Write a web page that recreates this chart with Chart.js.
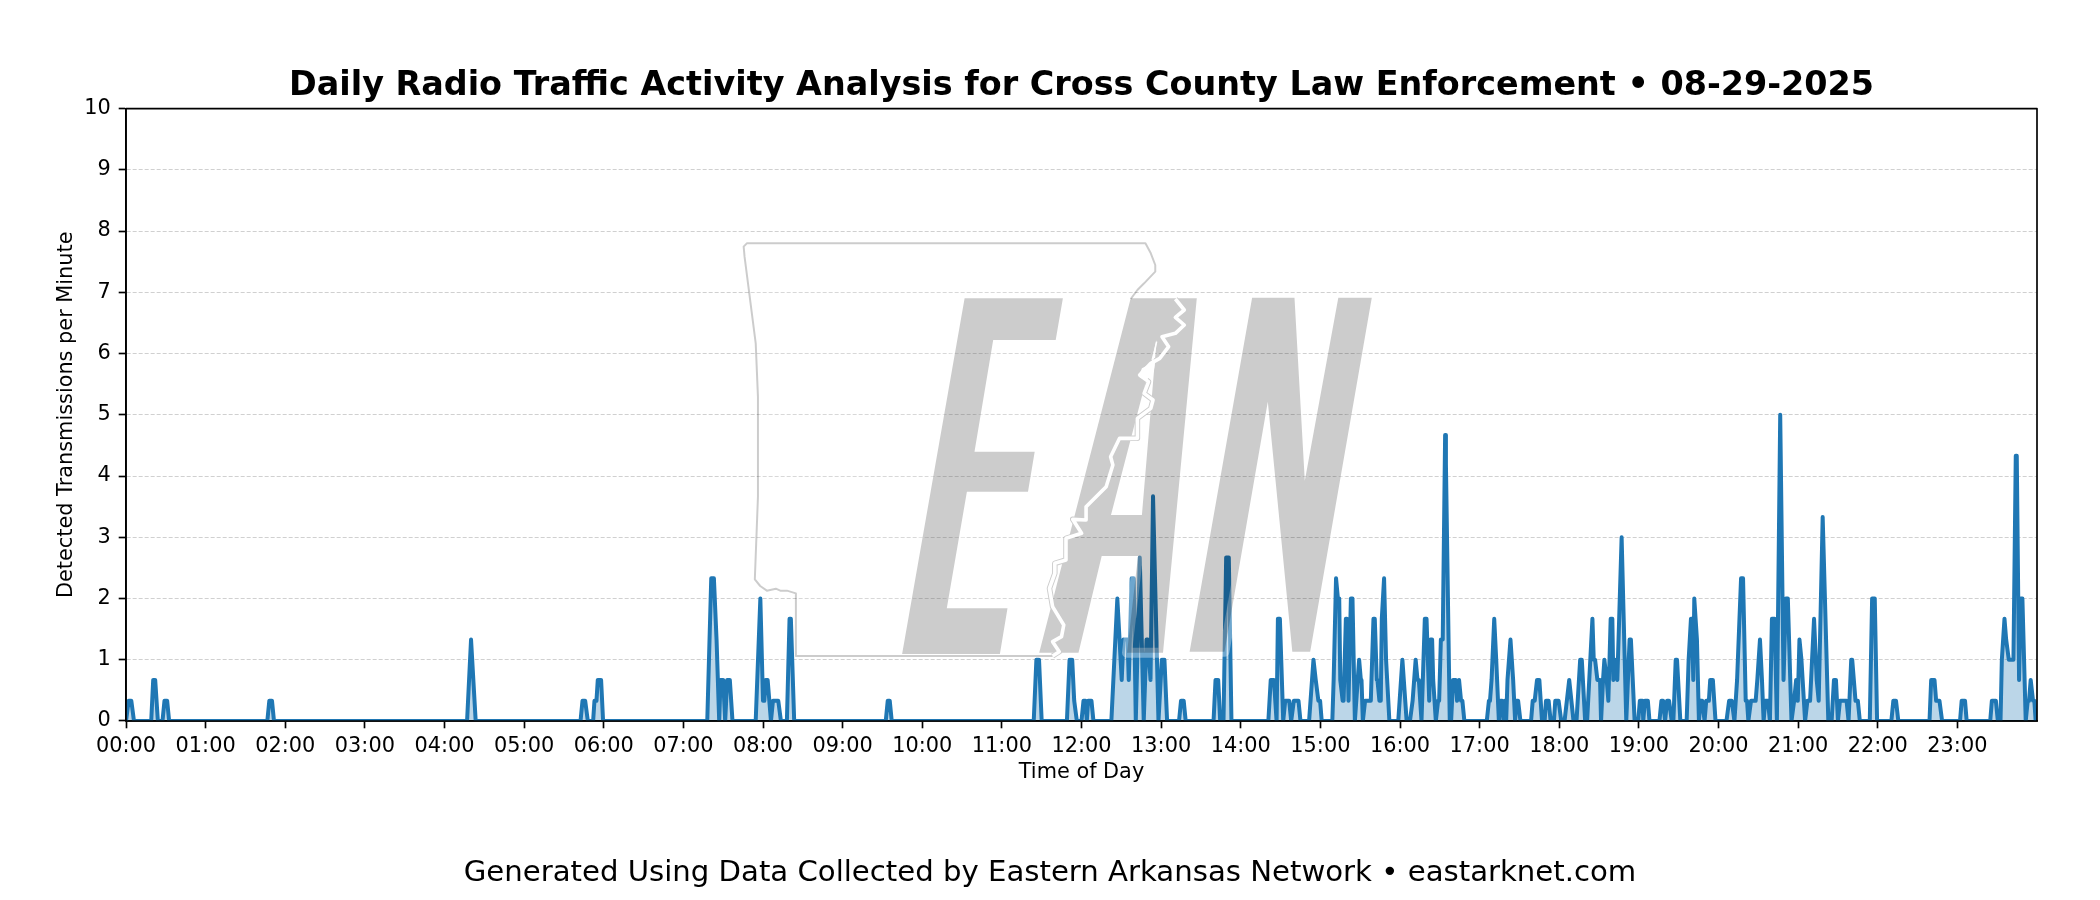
<!DOCTYPE html>
<html><head><meta charset="utf-8">
<style>html,body{margin:0;padding:0;background:#fff}canvas{display:block}</style>
<script src="https://cdn.jsdelivr.net/npm/chart.js@4"></script>
</head><body><canvas id="c" width="2100" height="900"></canvas>
<script>
const chartTitle = "Daily Radio Traffic Activity Analysis for Cross County Law Enforcement \u2022 08-29-2025";
const footerText = "Generated Using Data Collected by Eastern Arkansas Network \u2022 eastarknet.com";
const xAxisLabel = "Time of Day";
const yAxisLabel = "Detected Transmissions per Minute";

const minutes = [
 0,2,4,6,
 19,20.5,22,24,
 27.5,29,31,32.5,
 106.5,108,110,111.5,
 257,260,263.5,
 342.5,344,346,348,
 352,353,354.5,355.5,358,359.5,
 438,441,443,445,447,448,450,451.5,453,455,457,
 474.5,478,480,481,482,483.5,486,487.5,491.5,493.5,
 498,500,501,503.5,
 572.5,574,575.5,577,
 684,686,688,690,
 709,711,713,714.5,715,716.5,
 720,721.5,723,724,725,727.5,729,
 742.5,747,750.3,751.6,754.7,755.6,757.8,759.3,760.9,763.9,766.9,769,770,772,773.9,778,780.5,782.5,784.5,
 793.5,795,797,798.5,
 819.5,821,823,824.5,
 827,829,831,833,
 860.8,862.6,865,867,868,869.5,872,873.5,876.5,878,880,883.5,885,
 891.5,894.8,896.5,898.5,899.8,901,
 909,910,911.8,912.5,913.2,914.2,915,916.8,917.5,919.2,920,921.2,923,924.2,926,929.2,930.5,931,932,933.7,938,940,941,942.5,943,944.5,945.5,946.3,948,949.5,952,
 958.7,961.8,965,
 967.5,969.5,971.8,973.2,974.2,976.2,978.7,980,982,983,984.2,985,987,988.7,989.5,990.8,992.2,994,994.6,997.5,998.5,1000,1002,1003,1004.5,1006,1007,1008.5,
 1025.4,1027,1027.8,1029,1031,1032.5,1034.5,1035.75,1037,1038,1039,1040,1041,1043.25,1045.25,1046.75,1047.75,1049,1050.75,
 1058.75,1060,1061.5,1063.25,1065,1067,
 1069,1070,1072,1073.5,
 1076,1077,1079.5,1081.5,
 1084,1087.5,1090.75,
 1093,1095.75,1097,1099.5,
 1101,1105,1106,1107,1108.75,1110.75,1111.5,1113,1114,1115.75,1117,1118.75,1120,1120.75,1122,1123.75,1127,1130.5,1133,1134,1136.8,
 1139.5,1140.75,1142.75,1143.3,1144.5,1146.75,1148,
 1155.5,1157,1158.25,1159.75,1161.25,1162.75,1164.75,
 1166,1167.75,1168.75,1171.25,
 1176,1177.5,1179.25,1180,1181,1181.75,1183.75,1185.25,1186.5,1187.75,1189.5,1190.75,1192.75,1193.75,1195.75,1197.75,
 1206,1208,1210,1212,1214,1217,1218.5,1220.5,1221.5,1222.5,1224.5,1228,1229.25,1231.25,1232.75,1234,1235.25,1237.25,1238.75,1240.25,1242.25,1244,1246.5,1249,1250.75,1252.25,1255,1257,1258.5,1259.75,1261,1262.5,1265.25,1267,1269,1272,1274,1275.5,1278.5,1282.75,
 1285.25,1287,1288.5,1290,1291.5,1296.5,1298,1300,1300.75,1303.25,1305,1306.5,
 1314,1315.75,1317.75,1319.5,
 1330.25,1331.75,1333.75,1335.5,
 1359,1360.25,1362.75,1364,1366.5,1368.5,
 1382,1383.25,1385.75,1387,
 1404.75,1406,1409,1410.5,
 1412.5,1413.5,1415.5,1416.75,1418.75,1422.25,1424,1424.75,1426.5,1427.75,1429,1431.5,1433,1434,1435.25,1437,1438,1439
];
const rates = [
 0,.33,.33,0,
 0,.67,.67,0,
 0,.33,.33,0,
 0,.33,.33,0,
 0,1.33,0,
 0,.33,.33,0,
 0,.33,.33,.67,.67,0,
 0,2.33,2.33,1.33,0,.67,.67,0,.67,.67,0,
 0,2,.33,.33,.67,.67,0,.33,.33,0,
 0,1.67,1.67,0,
 0,.33,.33,0,
 0,1,1,0,
 0,1,1,.33,.33,0,
 0,.33,.33,0,.33,.33,0,
 0,2,.67,1.33,1.33,.67,2.33,2.33,0,2.67,0,1.33,1.33,.67,3.67,0,1,1,0,
 0,.33,.33,0,
 0,.67,.67,0,
 0,2.67,2.67,0,
 0,.67,.67,0,1.67,1.67,0,.33,.33,0,.33,.33,0,
 0,1,.67,.33,.33,0,
 0,.67,2.33,2.33,2,2,.67,.33,.33,1.67,1.67,.33,2,2,0,1,.67,.67,0,.33,.33,1.67,1.67,.67,.67,.33,.33,1.67,2.33,1,0,
 0,1,0,
 0,.33,1,.67,.67,0,1.67,1.67,.33,1.33,1.33,.67,0,.33,.33,1.33,1.33,4.67,4.2,0,0,.67,.67,.33,.67,.33,.33,0,
 0,.33,.33,.67,1.67,1,0,.33,.33,0,.33,0,.67,1.33,.67,0,.33,.33,0,
 0,.33,.33,.67,.67,0,
 0,.33,.33,0,
 0,.33,.33,0,
 0,.67,0,
 0,1,1,0,
 0,1.67,1,1,.67,.67,0,.67,1,.67,.33,1.67,1.67,.67,1,.67,3,0,1.33,1.33,0,
 0,.33,.33,0,.33,.33,0,
 0,.33,.33,0,.33,.33,0,
 0,1,1,0,
 0,1,1.67,1.67,.67,2,1.33,0,.33,.33,0,.33,.33,.67,.67,0,
 0,.33,.33,0,.67,2.33,2.33,.33,.33,0,.33,.33,.67,1.33,.67,0,.33,.33,0,1.67,1.67,0,5,.67,2,2,0,.33,.67,.33,1.33,1,0,.33,.33,1.67,.67,.33,3.33,0,
 0,.67,.67,0,.33,.33,0,1,1,.33,.33,0,
 0,2,2,0,
 0,.33,.33,0,
 0,.67,.67,.33,.33,0,
 0,.33,.33,0,
 0,.33,.33,0,
 0,1,1.67,1.33,1,1,4.33,4.33,.67,2,2,0,.33,.33,.67,.33,.33,0
];

/* Watermark logo outlines, in logo units */
const logoE = [[964.6,298.3],[1062.9,298.3],[1055.7,340],[993.2,340],[974.5,451.7],[1034.7,451.7],[1028,491.7],[966.9,491.7],[946.8,608.3],[1007.5,608.3],[999.9,654],[902.1,654]];
const logoA = [[1130.7,298.3],[1196.8,298.3],[1163,652.7],[1127,652.7],[1138,556],[1101.7,556],[1078.5,652.7],[1039.2,652.7]];
const logoAHole = [[1156.6,340],[1111,515],[1141.9,515]];
const logoN = [[1252.1,297.7],[1294.5,297.7],[1304.8,480.7],[1338.3,297.7],[1371.8,297.7],[1310.2,651.7],[1292.3,651.7],[1267.8,401.7],[1224.5,651.7],[1189.6,651.7]];
const stateWest = [[745,1278],[170,1278],[170,1090],[150,1082],[135,1082],[125,1076],[105,1082],[90,1068],[78,1048],[85,800],[85,500],[80,340],[55,80],[53,50],[60,40],[953,40],[965,70],[975,105],[975,125],[950,160],[935,180],[920,207]];
const stateRiver = [[1020,207],[1040,240],[1020,262],[1040,285],[1020,310],[990,320],[1005,350],[985,385],[965,400],[940,435],[960,455],[950,490],[970,510],[965,535],[935,565],[935,625],[895,625],[875,680],[880,705],[865,770],[820,830],[820,870],[790,868],[810,910],[775,925],[775,990],[750,1000],[750,1030],[738,1075],[745,1130],[770,1185],[765,1220],[745,1235],[760,1265],[745,1278]];
const riverBlob = [[975,395],[945,415],[938,440],[955,452],[972,420]];
const riverBranch = [[978,335],[968,400]];

function stateXY(p){ return [720 + p[0]/2.24, 230 + p[1]/3]; }
function tracePoly(ctx, pts){ pts.forEach((p,i)=> i ? ctx.lineTo(p[0],p[1]) : ctx.moveTo(p[0],p[1])); ctx.closePath(); }
function traceLine(ctx, pts){ pts.forEach((p,i)=> i ? ctx.lineTo(p[0],p[1]) : ctx.moveTo(p[0],p[1])); }

const overlayPlugin = {
  id:'overlay',
  afterDatasetsDraw(chart){
    const ctx = chart.ctx, a = chart.chartArea;
    ctx.save();
    const west = stateWest.map(stateXY), river = stateRiver.map(stateXY);
    ctx.beginPath(); tracePoly(ctx, west.concat(river));
    ctx.fillStyle = 'rgba(255,255,255,0.18)'; ctx.fill();
    ctx.lineJoin='round';
    ctx.beginPath(); tracePoly(ctx, logoE); tracePoly(ctx, logoA); tracePoly(ctx, logoN);
    ctx.strokeStyle='rgba(255,255,255,0.35)'; ctx.lineWidth=10; ctx.stroke();
    ctx.beginPath(); tracePoly(ctx, logoE); tracePoly(ctx, logoA); tracePoly(ctx, logoAHole); tracePoly(ctx, logoN);
    ctx.fillStyle='rgba(0,0,0,0.2)'; ctx.fill('evenodd');
    ctx.beginPath(); traceLine(ctx, west); ctx.strokeStyle='rgba(0,0,0,0.2)'; ctx.lineWidth=2; ctx.stroke();
    // grey river edge only where it leaves the letters
    ctx.save();
    ctx.beginPath(); ctx.rect(0,0,chart.width,chart.height);
    tracePoly(ctx, logoE); tracePoly(ctx, logoA); tracePoly(ctx, logoAHole); tracePoly(ctx, logoN);
    ctx.clip('evenodd');
    ctx.beginPath(); traceLine(ctx, river); ctx.strokeStyle='rgba(0,0,0,0.2)'; ctx.lineWidth=5.5; ctx.stroke();
    ctx.restore();
    ctx.beginPath(); traceLine(ctx, river); ctx.strokeStyle='#ffffff'; ctx.lineWidth=3.6; ctx.stroke();
    ctx.beginPath(); tracePoly(ctx, riverBlob.map(stateXY)); ctx.fillStyle='#ffffff'; ctx.fill();
    ctx.beginPath(); traceLine(ctx, riverBranch.map(stateXY)); ctx.lineWidth=1.5; ctx.stroke();
    ctx.strokeStyle='#000'; ctx.lineWidth=1.67;
    ctx.strokeRect(a.left,a.top,a.right-a.left,a.bottom-a.top);
    ctx.restore();
  }
};

Chart.defaults.font.family = "'DejaVu Sans'";
Chart.defaults.color = '#000';

new Chart(document.getElementById('c'), {
  type:'line',
  plugins:[overlayPlugin],
  data:{ datasets:[{
    data: minutes.map((m,i)=>({x:m,y:rates[i]})),
    borderColor:'#1f77b4', borderWidth:4, backgroundColor:'rgba(31,119,180,0.3)',
    fill:'origin', tension:0, pointRadius:0, borderJoinStyle:'round', borderCapStyle:'round'
  }]},
  options:{
    responsive:false, animation:false, devicePixelRatio:1,
    layout:{padding:0},
    plugins:{
      legend:{display:false}, tooltip:{enabled:false},
      title:{display:true,text:chartTitle,fullSize:false,color:'#000',
        font:{size:33.4,weight:'bold',lineHeight:1.2},padding:{top:66.5,bottom:2}},
      subtitle:{display:true,position:'bottom',text:footerText,color:'#000',
        font:{size:29.17,weight:'normal',lineHeight:1.2},padding:{top:70.5,bottom:9.5}}
    },
    scales:{
      x:{type:'linear',min:0,max:1440,z:1,
        afterFit(s){s.height=64;},
        afterBuildTicks(s){s.ticks=s.ticks.filter(t=>t.value<1440);},
        grid:{drawOnChartArea:false,drawTicks:true,tickLength:7.3,tickWidth:1.67,tickColor:'#000'},
        border:{display:true,color:'#000',width:1.67},
        ticks:{stepSize:60,autoSkip:false,maxRotation:0,minRotation:0,padding:5.5,color:'#000',font:{size:20.83},
          callback(v){const h=Math.floor(v/60);return String(h).padStart(2,'0')+':00';}},
        title:{display:true,text:xAxisLabel,color:'#000',font:{size:20.83,lineHeight:1.2},padding:0}
      },
      y:{type:'linear',min:0,max:10,
        afterFit(s){s.width=126;},
        grid:{color:'#d0d0d0',lineWidth:1,drawTicks:true,tickLength:7.3,tickWidth:1.67,tickColor:'#000'},
        border:{display:true,color:'#000',width:1.67,dash:[4,2]},
        ticks:{stepSize:1,padding:8,color:'#000',font:{size:20.83}},
        title:{display:true,text:yAxisLabel,color:'#000',font:{size:20.83,lineHeight:1.2},padding:{top:54,bottom:0}}
      },
      yRight:{type:'linear',position:'right',display:true,min:0,max:10,
        afterFit(s){s.width=63;},
        grid:{display:false},border:{display:false},ticks:{display:false},title:{display:false}
      }
    }
  }
});
</script></body></html>
